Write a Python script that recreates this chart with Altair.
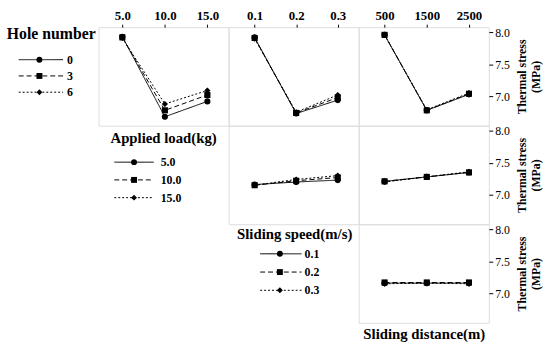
import altair as alt
import pandas as pd

FONT = "Liberation Serif"

# ---- factor levels ----
hole_levels = ["0", "3", "6"]
load_levels = ["5.0", "10.0", "15.0"]
speed_levels = ["0.1", "0.2", "0.3"]

load_x = [5.0, 10.0, 15.0]
speed_x = [0.1, 0.2, 0.3]
dist_x = [500, 1500, 2500]

# ---- thermal stress (MPa) means ----
# row 1: lines = hole number
load_by_hole = {"0": [7.93, 6.68, 6.92], "3": [7.92, 6.78, 7.02], "6": [7.91, 6.88, 7.09]}
speed_by_hole = {"0": [7.92, 6.73, 6.94], "3": [7.91, 6.74, 6.98], "6": [7.90, 6.75, 7.02]}
dist_by_hole = {"0": [7.96, 6.78, 7.03], "3": [7.96, 6.78, 7.04], "6": [7.96, 6.79, 7.05]}
# row 2: lines = applied load
speed_by_load = {"5.0": [7.16, 7.20, 7.23], "10.0": [7.15, 7.22, 7.27], "15.0": [7.15, 7.24, 7.30]}
dist_by_load = {"5.0": [7.21, 7.28, 7.35], "10.0": [7.21, 7.28, 7.35], "15.0": [7.20, 7.28, 7.36]}
# row 3: lines = sliding speed
dist_by_speed = {"0.1": [7.16, 7.16, 7.16], "0.2": [7.17, 7.17, 7.17], "0.3": [7.15, 7.16, 7.15]}

DASHES = [[1, 0], [5, 3], [2, 2]]
SHAPES = ["circle", "square", "diamond"]
YDOM = [6.54, 8.08]
PW, PH = 132, 100


def frame(xs, series):
    rows = []
    for g, ys in series.items():
        for x, y in zip(xs, ys):
            rows.append({"grp": g, "x": x, "y": y})
    return pd.DataFrame(rows)


def panel(xs, series, levels, xdom, xfmt, top=False, right=False, bottom_title=None):
    df = frame(xs, series)
    if top:
        xaxis = alt.Axis(orient="top", values=xs, format=xfmt, title=None, grid=False,
                         domain=False, tickSize=3, labelPadding=2, labelFontSize=13,
                         labelFontWeight="bold", labelFont=FONT, labelColor="black",
                         tickColor="black")
    elif bottom_title:
        xaxis = alt.Axis(orient="bottom", labels=False, ticks=False, domain=False, grid=False,
                         title=bottom_title, titleFontSize=15, titleFontWeight="bold",
                         titleFont=FONT, titleColor="black", titlePadding=4)
    else:
        xaxis = None
    if right:
        yaxis = alt.Axis(orient="right", values=[7.0, 7.5, 8.0], format=".1f",
                         title=["Thermal stress", "(MPa)"], titleAngle=270,
                         titleFontSize=12, titleFontWeight="bold", titleFont=FONT,
                         titleColor="black", grid=False, domain=False,
                         tickSize=4, labelPadding=2, labelFontSize=12, labelFont=FONT,
                         labelColor="black", tickColor="black", titlePadding=5)
    else:
        yaxis = None
    base = alt.Chart(df).encode(
        x=alt.X("x:Q", scale=alt.Scale(domain=xdom, nice=False, zero=False), axis=xaxis),
        y=alt.Y("y:Q", scale=alt.Scale(domain=YDOM, nice=False, zero=False), axis=yaxis),
        strokeDash=alt.StrokeDash("grp:N", scale=alt.Scale(domain=levels, range=DASHES), legend=None),
        shape=alt.Shape("grp:N", scale=alt.Scale(domain=levels, range=SHAPES), legend=None),
        detail="grp:N",
    )
    lines = base.mark_line(color="black", strokeWidth=1)
    pts = base.mark_point(filled=True, color="black", size=38, opacity=1)
    return alt.layer(lines, pts).properties(width=PW, height=PH)


def legend_cell(title, levels, width, tx, ty, x0, x1, xm, xl, yr, title_size=15, label_size=12):
    df = pd.DataFrame({"grp": levels})
    y = alt.Y("grp:N", scale=alt.Scale(type="point", domain=levels, range=yr, padding=0), axis=None)
    sd = alt.StrokeDash("grp:N", scale=alt.Scale(domain=levels, range=DASHES), legend=None)
    sh = alt.Shape("grp:N", scale=alt.Scale(domain=levels, range=SHAPES), legend=None)
    rule = alt.Chart(df).mark_rule(color="black", strokeWidth=1).encode(
        x=alt.value(x0), x2=alt.value(x1), y=y, strokeDash=sd)
    pts = alt.Chart(df).mark_point(filled=True, color="black", size=36, opacity=1).encode(
        x=alt.value(xm), y=y, shape=sh)
    lab = alt.Chart(df).mark_text(align="left", baseline="middle", fontWeight="bold",
                                  fontSize=label_size, font=FONT, color="black").encode(
        x=alt.value(xl), y=y, text="grp:N")
    ttl = alt.Chart(pd.DataFrame({"t": [title]})).mark_text(
        align="center", baseline="middle", fontWeight="bold", fontSize=title_size, font=FONT,
        color="black").encode(x=alt.value(tx), y=alt.value(ty), text="t:N")
    return alt.layer(ttl, rule, pts, lab).properties(
        width=width, height=PH, view=alt.ViewBackground(stroke="transparent"))


def blank(width):
    return alt.Chart(pd.DataFrame({"t": [""]})).mark_text().encode(
        text="t:N", x=alt.value(0), y=alt.value(0)).properties(
        width=width, height=PH, view=alt.ViewBackground(stroke="transparent"))


LOAD_DOM = [2.2, 17.5]
SPEED_DOM = [0.0375, 0.3505]
DIST_DOM = [-112, 2970]

p11 = panel(load_x, load_by_hole, hole_levels, LOAD_DOM, ".1f", top=True)
p12 = panel(speed_x, speed_by_hole, hole_levels, SPEED_DOM, ".1f", top=True)
p13 = panel(dist_x, dist_by_hole, hole_levels, DIST_DOM, "d", top=True, right=True)
p22 = panel(speed_x, speed_by_load, load_levels, SPEED_DOM, ".1f")
p23 = panel(dist_x, dist_by_load, load_levels, DIST_DOM, "d", right=True)
p33 = panel(dist_x, dist_by_speed, speed_levels, DIST_DOM, "d", right=True,
            bottom_title="Sliding distance(m)")

leg_hole = legend_cell("Hole number", hole_levels, 99, 51, 7, 18, 63, 39, 67, [33, 66], 16)
leg_load = legend_cell("Applied load(kg)", load_levels, PW, 66, 13, 16, 56, 36, 63, [37, 73], 15)
leg_speed = legend_cell("Sliding speed(m/s)", speed_levels, PW, 67, 10, 32, 74, 52, 77, [30, 67], 15)

RES = dict(x="independent", y="independent", strokeDash="independent", shape="independent")

chart = alt.concat(
    leg_hole, p11, p12, p13,
    blank(99), leg_load, p22, p23,
    blank(99), blank(PW), leg_speed, p33,
    columns=4, spacing=0, bounds="flush", align="each",
    padding={"left": 0, "top": 6, "right": 2, "bottom": 2},
).resolve_scale(**RES)
chart = chart.configure_view(stroke="black", strokeWidth=1).configure_axis(
    labelFont=FONT, titleFont=FONT, labelColor="black", titleColor="black", tickColor="black"
).configure_text(font=FONT).configure(background="white")

chart.save("out.html", embed_options={"renderer": "svg", "actions": False})
